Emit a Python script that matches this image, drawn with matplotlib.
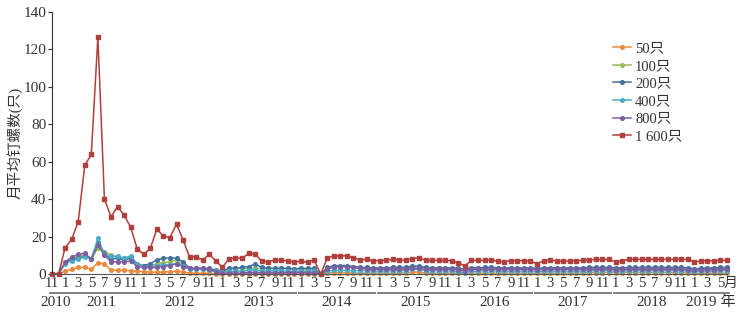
import matplotlib.pyplot as plt
import numpy as np

plt.rcParams['font.family'] = ['Liberation Serif', 'Noto Sans CJK SC']

# monthly mean snail counts, Nov 2010 .. Jun 2019 (104 months)
s50 = [0, 0, 1.5, 2.5, 3.5, 3.5, 2.5, 6, 5.5, 2, 2, 2, 1.8, 1.5,
       1.2, 1, 1, 1, 1.2, 1.5, 1, 0.5, 0.3, 0.3, 0.3, 0.2,
       0.2, 0.2, 0.2, 0.2, 0.2, 0.2, 0.2, 0.2, 0.2, 0.2, 0.2, 0.2,
       0.2, 0.2, 0.2, 0, 0.5, 0.8, 0.8, 0.8, 0.5, 0.5, 0.5, 0.5,
       0.5, 0.5, 0.5, 0.5, 0.5, 1, 1, 0.5, 0.5, 0.5, 0.5, 0.5,
       0.3, 0.3, 0.5, 0.5, 0.5, 0.5, 0.5, 0.5, 0.5, 0.5, 0.5, 0.5,
       0.3, 0.5, 0.5, 0.5, 0.5, 0.5, 0.5, 0.5, 0.8, 0.8, 0.8, 0.8,
       0.8, 0.8, 0.8, 0.8, 0.8, 0.8, 0.8, 0.8, 0.8, 0.8, 0.8, 0.5,
       0.5, 0.5, 0.5, 0.5, 0.5, 0.5]
s100 = [0, 0, 6, 8, 9.5, 10, 8, 14, 12, 10, 9, 8.5, 9, 5.5,
        4.5, 4.5, 5.5, 6, 6.5, 7.5, 5, 2.5, 2.5, 2.5, 2, 1.5,
        1.5, 3, 3, 3, 3, 3, 3, 3, 3, 3, 2.8, 2.5,
        2.5, 2.5, 2.5, 0, 3, 3.8, 4, 3.8, 3.5, 3, 3, 2.8,
        2.8, 2.8, 3, 3, 3, 3.8, 4, 3.2, 3, 3, 3, 2.8,
        2.5, 2, 2.8, 2.8, 3, 3, 2.8, 2.8, 2.8, 2.8, 2.8, 2.8,
        2.5, 2.8, 2.8, 2.8, 2.8, 2.8, 2.8, 2.8, 3, 3, 3, 3,
        2.8, 2.8, 3, 3, 3, 3, 3, 3, 3, 3, 3, 2.8,
        2.5, 2.5, 2.8, 2.8, 3, 3]
s200 = [0, 0, 6, 7.5, 8.5, 9.5, 8, 17, 11, 8, 8.5, 7.5, 8.5, 5,
        4.5, 5.5, 7.5, 8.5, 8.5, 8.5, 6.5, 3, 3, 3, 3, 2,
        1.5, 3, 3, 3.5, 4, 5.3, 3.5, 3, 3, 3, 3, 2.8,
        3, 3, 3, 0, 3.5, 4.5, 4.5, 4.5, 4, 3.5, 3.5, 3.3,
        3.3, 3.3, 3.5, 3.5, 3.5, 4.2, 4.2, 3.5, 3.3, 3.3, 3.3, 3.3,
        3, 2.5, 3.3, 3.3, 3.5, 3.5, 3.3, 3.3, 3.3, 3.3, 3.3, 3.3,
        3, 3.3, 3.3, 3.3, 3.3, 3.3, 3.3, 3.3, 3.5, 3.5, 3.5, 3.5,
        3.3, 3.3, 3.5, 3.5, 3.5, 3.5, 3.5, 3.5, 3.5, 3.5, 3.5, 3.3,
        2.8, 3, 3.2, 3.3, 3.5, 3.5]
s400 = [0, 0, 5.5, 7, 8, 9, 8, 19, 10.5, 9.5, 9.5, 8.5, 9.5, 5.5,
        4, 4, 4.5, 5, 5, 5.5, 4.5, 2.5, 2.5, 2.5, 2, 1.5,
        1, 1.5, 1.5, 1.5, 2, 2, 1.8, 1.8, 1.8, 1.8, 1.5, 1.5,
        1.5, 1.5, 1.5, 0, 1.5, 2, 2, 2, 1.8, 1.8, 1.8, 1.5,
        1.5, 1.5, 1.8, 1.8, 1.8, 2.5, 2.5, 1.8, 1.8, 1.8, 1.8, 1.5,
        1.2, 0.8, 1.5, 1.5, 1.8, 1.8, 1.5, 1.5, 1.5, 1.5, 1.5, 1.5,
        1.2, 1.5, 1.5, 1.5, 1.5, 1.5, 1.5, 1.5, 1.8, 1.8, 1.8, 1.8,
        1.5, 1.5, 1.8, 1.8, 1.8, 1.8, 1.8, 1.8, 1.8, 1.8, 1.8, 1.5,
        1.2, 1.5, 1.5, 1.5, 1.8, 1.8]
s800 = [0, 0, 6.5, 9, 10.5, 11, 8, 15.5, 10, 6.5, 6.5, 6.5, 7, 4,
        3.5, 3.5, 3.5, 4, 4.5, 5.5, 4, 3, 3, 3, 2.5, 1,
        0.5, 0.5, 0.5, 0.5, 0.8, 0.8, 0.8, 0.8, 0.8, 0.8, 0.8, 0.8,
        0.8, 0.8, 0.8, 0, 2.5, 3.8, 4, 3.8, 3.5, 3, 2.8, 2.5,
        2.5, 2.5, 2.5, 2.5, 2.5, 3, 3, 2.5, 2.5, 2.5, 2.5, 2.5,
        2.2, 1.8, 2.5, 2.5, 2.5, 2.5, 2.5, 2.5, 2.5, 2.5, 2.5, 2.5,
        2.2, 2.5, 2.5, 2.5, 2.5, 2.5, 2.5, 2.5, 2.5, 2.5, 2.5, 2.5,
        2.2, 2.5, 2.5, 2.5, 2.5, 2.5, 2.5, 2.5, 2.5, 2.5, 2.5, 2.3,
        2, 2.2, 2.3, 2.3, 2.5, 2.5]
s1600 = [0, 0, 14, 18.5, 28, 58, 64, 126.5, 40, 30.6, 36, 31.5, 25, 13.5,
         10.5, 13.7, 24, 20.3, 19.5, 26.7, 18.2, 9, 9.2, 7.5, 10.5, 7,
         3.6, 8, 8.7, 8.3, 11, 10.7, 6.8, 6.6, 7.3, 7.3, 7, 6.4,
         6.8, 6.3, 7.5, 0, 8.4, 9.8, 9.6, 9.8, 8.7, 7.5, 7.8, 7,
         7.2, 7.3, 7.8, 7.7, 7.3, 8.2, 8.7, 7.3, 7.3, 7.3, 7.3, 7,
         6, 4.3, 7.3, 7.3, 7.3, 7.5, 6.8, 6.6, 7.1, 7.1, 7.1, 6.8,
         5.5, 7.1, 7.3, 7.1, 6.8, 7.1, 7, 7.3, 7.5, 7.8, 7.8, 7.8,
         6.4, 7, 7.8, 7.8, 7.8, 7.8, 7.8, 7.8, 7.8, 7.8, 7.8, 7.8,
         6.4, 7, 7, 7, 7.3, 7.3]

labels = ['50只', '100只', '200只', '400只', '800只', '1 600只']
colors = ['#ec8a3c', '#9bbb59', '#44709f', '#4bacc6', '#7c5ea3', '#b1403d']
series = [s50, s100, s200, s400, s800, s1600]

years = ['2010', '2011', '2012', '2013', '2014', '2015', '2016', '2017', '2018', '2019 年']
months_per_year = [2, 12, 12, 12, 12, 12, 12, 12, 12, 6]
first_month = [11, 1, 1, 1, 1, 1, 1, 1, 1, 1]

fig = plt.figure(figsize=(7.41, 3.15), dpi=100)
ax = fig.add_axes([52 / 741, 41 / 315, 675 / 741, 262 / 315])
# thin strip below the plot for the year bracket lines
grp = fig.add_axes([52 / 741, 21.5 / 315, 675 / 741, 1 / 315])
grp.axis('off')

x = np.arange(len(s1600))
for vals, lab, c in zip(series, labels, colors):
    mk = 's' if lab == '1 600只' else 'o'
    ax.plot(x, vals, color=c, lw=1.1, marker=mk, ms=2.6, label=lab, clip_on=False)

ax.set_xlim(0, len(s1600) - 1)
grp.set_xlim(0, len(s1600) - 1)
grp.set_ylim(-1, 1)
ax.set_ylim(0, 140)
ax.set_yticks(range(0, 141, 20))
ax.tick_params(axis='y', direction='out', length=3, labelsize=11, pad=1, colors='#333333')
ax.spines['top'].set_visible(False)
ax.spines['right'].set_visible(False)
ax.spines['left'].set_color('#333333')
ax.spines['bottom'].set_color('#555555')
ax.set_ylabel('月平均钉螺数(只)', fontsize=10.5, color='#333333')
ax.yaxis.set_label_coords(-0.043, 0.5)

# month ticks and year groups
trans = ax.get_xaxis_transform()
ticks, ticklabs = [], []
start = 0
for yr, n, m0 in zip(years, months_per_year, first_month):
    for k in range(n):
        m = m0 + k
        if m % 2 == 1:
            ticks.append(start + k)
            ticklabs.append(str(m))
    grp.plot([start - 0.45, start + n - 1 + 0.45], [0, 0], color='#808080', lw=1.4,
             solid_capstyle='butt', clip_on=False)
    ax.text(start + (n - 1) / 2, -0.108, yr, transform=trans,
            ha='center', va='center', fontsize=11, color='#333333')
    start += n
ax.set_xticks(ticks)
ax.set_xticklabels(ticklabs)
ax.tick_params(axis='x', length=0, labelsize=10.5, pad=2, colors='#333333')
ax.text(ticks[-1] + 0.45, -0.036, '月', transform=trans, ha='left', va='center',
        fontsize=10, color='#333333')

fig.legend(loc='upper left', bbox_to_anchor=(600 / 741, 1 - 29 / 315), frameon=False,
           fontsize=10.5, handlelength=1.2, handletextpad=0.3, labelspacing=0.3,
           labelcolor='#333333')

fig.savefig('out.png', dpi=100)
